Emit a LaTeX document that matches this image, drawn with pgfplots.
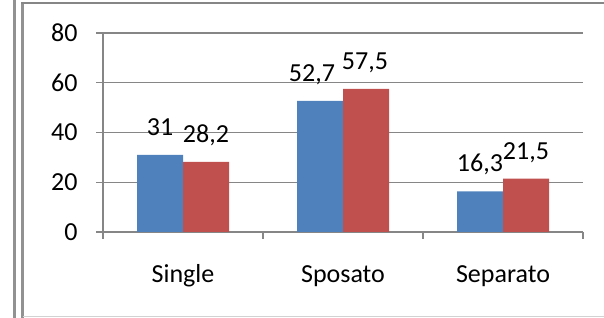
\documentclass[border=0pt]{standalone}
\usepackage{fontspec}
\setmainfont{Carlito}
\usepackage{pgfplots}
\usepackage{pgfplotstable}
\pgfplotsset{compat=1.18}
\definecolor{xblue}{HTML}{4F81BD}
\definecolor{xred}{HTML}{C0504D}
\definecolor{axgray}{HTML}{868686}
\pgfplotstableread{
x y lab dx
0 31   31   0
1 52.7 52,7 -8
2 16.3 16,3 0
}\serA
\pgfplotstableread{
x y lab dx
0 28.2 28,2 0
1 57.5 57,5 -1
2 21.5 21,5 0
}\serB
\begin{document}
\begin{tikzpicture}[x=1pt,y=1pt]
\useasboundingbox (0,0) rectangle (604,318);
\draw[line width=2.2pt, axgray!90] (14.5,0) -- (14.5,318);
\draw[line width=2.2pt, axgray!90] (22.5,0) -- (22.5,315);
\draw[line width=1.7pt, axgray] (21.4,315) -- (604,315);
\draw[line width=1pt, gray!35] (22.5,1) -- (604,1);
\begin{axis}[
  at={(103pt,86pt)}, anchor=south west,
  scale only axis, width=480pt, height=199pt,
  xmin=-0.5, xmax=2.5, ymin=0, ymax=80,
  ybar=0pt, bar width=46pt,
  axis lines*=left,
  axis line style={-, draw=axgray, line width=1.3pt},
  ytick={0,20,40,60,80},
  ymajorgrids, grid style={axgray, line width=1.3pt},
  tick style={axgray, line width=1.3pt},
  tick align=outside, major tick length=7pt,
  xtick={-0.5,0.5,1.5,2.5}, xticklabels={},
  extra x ticks={0,1,2}, extra x tick labels={Single,Sposato,Separato},
  extra x tick style={major tick length=0pt, tick style={draw=none},
    xticklabel style={anchor=base, yshift=-50pt}},
  tick label style={font=\fontsize{26}{30}\selectfont, text=black},
  yticklabel style={xshift=-15pt},
  /pgf/number format/assume math mode=true,
  clip=false,
  nodes near coords, point meta=explicit symbolic,
  visualization depends on={\thisrow{dx}\as\dx},
  every node near coord/.append style={font=\fontsize{26}{30}\selectfont, anchor=base, yshift=19.5pt, xshift=\dx pt, text=black},
]
\addplot[fill=xblue, draw=none] table[x=x, y=y, meta=lab] {\serA};
\addplot[fill=xred, draw=none] table[x=x, y=y, meta=lab] {\serB};
\end{axis}
\end{tikzpicture}
\end{document}
